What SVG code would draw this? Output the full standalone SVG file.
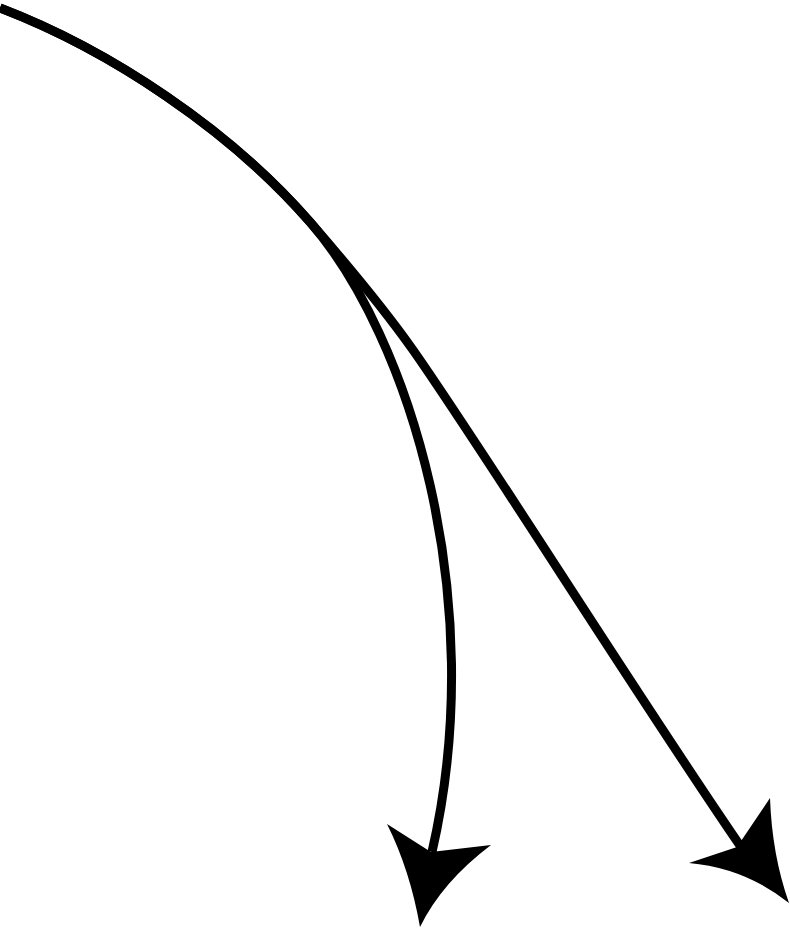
<svg xmlns="http://www.w3.org/2000/svg" width="790" height="929" viewBox="0 0 790 929">
<style>
.c{fill:none;stroke:#000;stroke-width:9;}
.h{fill:#000;stroke:none;}
</style>
<rect width="790" height="929" fill="#fff"/>
<g id="connectors">
<path class="c" d="M0,8 C110,50 230,130 310,222 C410,337 490,600 432,852"/>
<path class="c" d="M0,8 C110,50 230,130 310,222 Q377.4,299.5 413,350 C480,445 640,700 741,847"/>
<path class="h" d="M420,927 Q410,870 387,824 L431,852 L491,845 Q442,882 420,927 Z"/>
<path class="h" d="M789,903 Q772,855 770,798 L737,847 L689,863 Q745,868 789,903 Z"/>
</g>
</svg>
